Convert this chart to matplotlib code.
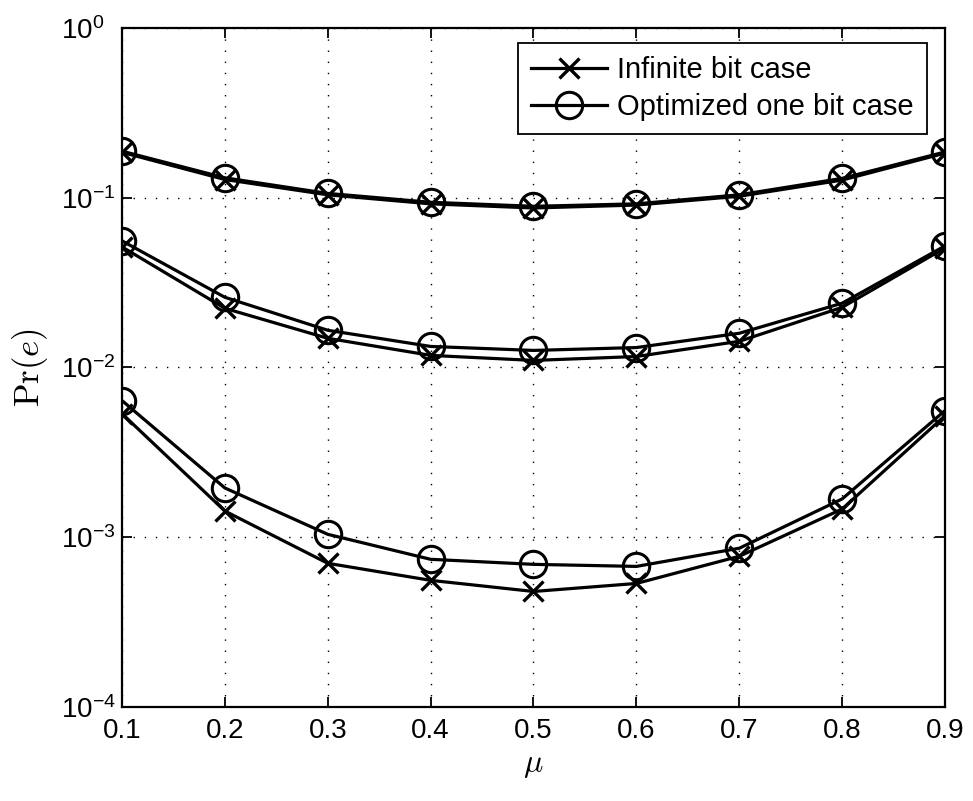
import matplotlib
matplotlib.use("Agg")
import matplotlib.pyplot as plt
from matplotlib.ticker import FixedLocator, NullLocator

plt.rcParams['font.family'] = ['Liberation Sans', 'DejaVu Sans']
# tick labels like 10^-2 in the sans font, axis labels in computer modern
plt.rcParams['mathtext.fontset'] = 'custom'
plt.rcParams['mathtext.rm'] = 'Liberation Sans'
plt.rcParams['mathtext.it'] = 'Liberation Sans:italic'

mu = [0.1, 0.2, 0.3, 0.4, 0.5, 0.6, 0.7, 0.8, 0.9]
yticks = [1e-4, 1e-3, 1e-2, 1e-1, 1e0]
ytick_labels = [r'$10^{-4}$', r'$10^{-3}$', r'$10^{-2}$', r'$10^{-1}$', r'$10^{0}$']

# three SNR groups, top to bottom
inf_hi = [0.185, 0.128, 0.104, 0.092, 0.087, 0.0905, 0.102, 0.127, 0.183]
opt_hi = [0.188, 0.131, 0.106, 0.094, 0.089, 0.092, 0.104, 0.130, 0.186]
inf_mid = [0.0513, 0.0223, 0.01485, 0.01178, 0.0110, 0.0116, 0.01426, 0.0226, 0.0506]
opt_mid = [0.0557, 0.0259, 0.01656, 0.0133, 0.0126, 0.0131, 0.0159, 0.0239, 0.052]
inf_lo = [0.00534, 0.001426, 0.000702, 0.000557, 0.000479, 0.000534, 0.000772, 0.001465, 0.0052]
opt_lo = [0.00638, 0.00195, 0.00104, 0.000741, 0.000692, 0.000673, 0.000861, 0.00168, 0.00557]

groups = [(inf_hi, opt_hi), (inf_mid, opt_mid), (inf_lo, opt_lo)]

fig = plt.figure(figsize=(9.73, 8.01), dpi=100)
ax = fig.add_axes([0.1254, 0.1174, 0.8458, 0.8477])

lw = 2.3
for i, (a, b) in enumerate(groups):
    ax.plot(mu, a, color='k', lw=lw, marker='x', ms=14, mew=2.4,
            label='Infinite bit case' if i == 0 else None)
    ax.plot(mu, b, color='k', lw=lw, marker='o', ms=19, mew=2.2, mfc='none',
            label='Optimized one bit case' if i == 0 else None)

ax.set_yscale('log')
ax.set_xlim(0.1, 0.9)
ax.set_ylim(1e-4, 1)
ax.xaxis.set_major_locator(FixedLocator(mu))
ax.set_xticklabels(['%.1f' % m for m in mu])
ax.yaxis.set_major_locator(FixedLocator(yticks))
ax.yaxis.set_minor_locator(NullLocator())
ax.set_yticklabels(ytick_labels)

ax.grid(True, which='major', color='k', linestyle=(0, (1, 7)), linewidth=1.0)
ax.tick_params(direction='in', top=True, right=True, labelsize=20,
               length=7, width=1.3)
ax.tick_params(axis='x', pad=8)
# matlab style: the "10" bases line up, exponents stick out to the right
ax.tick_params(axis='y', pad=44)
plt.setp(ax.get_yticklabels(), ha='left')
for s in ax.spines.values():
    s.set_linewidth(1.6)

ax.set_xlabel(r'$\mu$', fontsize=23, labelpad=4, math_fontfamily='cm')
ax.set_ylabel(r'$\mathrm{Pr}(e)$', fontsize=25, labelpad=8, math_fontfamily='cm')

leg = ax.legend(loc='upper right', bbox_to_anchor=(0.978, 0.978), fontsize=21,
                frameon=True, fancybox=False, edgecolor='k', framealpha=1,
                handlelength=2.6, borderaxespad=0, labelspacing=0.3,
                handletextpad=0.35, borderpad=0.45)
leg.get_frame().set_linewidth(1.3)

fig.savefig('out.png', dpi=100, facecolor='white')
